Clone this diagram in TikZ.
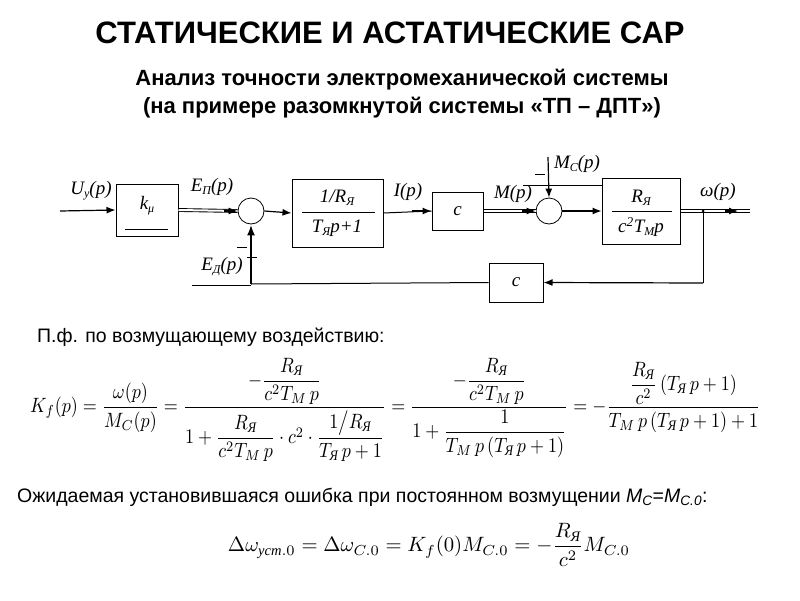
\documentclass[tikz,border=0pt]{standalone}
\usepackage{fontspec}
\usepackage{amsmath}
\setmainfont{Liberation Serif}
\newfontfamily\arial{Liberation Sans}
\usetikzlibrary{arrows.meta}
\newcommand\Ya{\text{\itshape Я}}
\newcommand\lo[1]{\raisebox{-0.35ex}{\fontsize{12}{13}\selectfont #1}}
\begin{document}
\begin{tikzpicture}[x=1pt,y=-1pt,
  ln/.style={line width=1pt},
  blk/.style={draw, line width=1pt, inner sep=0},
  sumc/.style={circle, draw, line width=0.8pt, minimum size=26pt, inner sep=0},
  lbl/.style={font=\fontsize{19}{22}\selectfont\itshape, inner sep=0},
  arr/.style={-{Latex[length=9pt,width=7pt]}, line width=1.2pt},
  tarr/.style={-{Latex[length=11pt,width=8pt]}, line width=2.4pt},
  dbl/.style={double, double distance=2pt, line width=0.9pt},
  title/.style={font=\arial\bfseries\fontsize{31}{36}\selectfont, inner sep=0},
  sub/.style={font=\arial\bfseries\fontsize{22}{26}\selectfont, inner sep=0},
  txt/.style={font=\arial\fontsize{19.5}{23}\selectfont, inner sep=0}]
\useasboundingbox (0,0) rectangle (800,600);
\fill[white] (0,0) rectangle (800,600);
% titles
\node[title] (t1) at (390,33) {СТАТИЧЕСКИЕ И АСТАТИЧЕСКИЕ САР};
\node[sub] (t2) at (402,80) {Анализ точности электромеханической системы};
\node[sub] (t3) at (402,108) {(на примере разомкнутой системы «ТП – ДПТ»)};
% blocks
\node[blk, minimum width=62pt, minimum height=52pt] (km) at (147,210) {};
\node[lbl] (kml) at (147,206) {k\lo{μ}};
\draw[ln] (125,229) -- (168,229);
\node[sumc] (s1) at (251,211) {};
\node[blk, minimum width=91pt, minimum height=68pt] (b2) at (337.5,213) {};
\node[lbl] (b2n) at (337,198) {1/R\lo{Я}};
\draw[ln] (302,212) -- (375,212);
\node[lbl] (b2d) at (337,228) {T\lo{Я}p+1};
\node[blk, minimum width=51pt, minimum height=38pt, lbl] (cA) at (457.5,211) {c};
\node[sumc] (s2) at (549,211) {};
\node[blk, minimum width=78pt, minimum height=66pt] (b3) at (641,211) {};
\node[lbl] (b3n) at (641,198) {R\lo{Я}};
\draw[ln] (612,211) -- (672,211);
\node[lbl] (b3d) at (641,227) {c\textsuperscript{2}T\lo{M}p};
\node[blk, minimum width=54pt, minimum height=39pt, lbl] (cB) at (516,282.5) {c};
% coordinates
\coordinate (in) at (60,211);
\coordinate (br) at (703,211);
\coordinate (out) at (750,211);
\coordinate (fb) at (703,283);
\coordinate (fl) at (251,284);
\coordinate (mc) at (548,157);
% connectors
\draw[arr] (in) -- (km.west);
\draw[dbl] (km.east) -- (s1.west);
\draw[arr] ([xshift=-14pt]s1.west) -- (s1.west);
\draw[arr] (s1.east) -- (b2.west);
\draw[ln] (b2.east) -- (cA.west);
\draw[arr] ([xshift=-20pt]cA.west) -- (cA.west);
\draw[dbl] (cA.east) -- (s2.west);
\draw[arr] ([xshift=-14pt]s2.west) -- (s2.west);
\draw[arr] (mc) -- (s2.north);
\draw[arr] (s2.east) -- (b3.west);
\draw[dbl] (b3.east) -- (out);
\draw[arr] ([xshift=-25pt]out) -- ([xshift=-12pt]out);
\fill (br) circle (1.5pt);
\draw[ln] (br) -- (fb);
\draw[arr] (fb) -- (cB.east);
\draw[ln] (cB.west) -- (fl);
\draw[tarr] (fl) -- (s1.south);
% labels
\node[lbl] (lu) at (91,191) {U\lo{y}(p)};
\node[lbl] (le) at (212,187) {E\lo{П}(p)};
\node[lbl] (li) at (408,192) {I(p)};
\node[lbl] (lm) at (513,194) {M(p)};
\node[lbl] (lmc) at (577,164) {M\lo{C}(p)};
\node[lbl] (lw) at (718,192) {ω(p)};
\node[lbl] (ld) at (222,267) {E\lo{Д}(p)};
\draw[ln] (535,174) -- (545,174);
\draw[ln] (523,185) -- (602,185);
\draw[ln] (237,247) -- (247,247);
\draw[ln] (247,257) -- (257,257);
\draw[ln] (192,285) -- (251,285);
% formulas
\node[txt, anchor=west] (pf) at (37,337) {П.ф. по возмущающему воздействию:};
\node[inner sep=0, anchor=west] (f1) at (30,410) {\scalebox{1}[1.15]{\resizebox{730pt}{!}{$\displaystyle
K_f(p)=\frac{\omega(p)}{M_C(p)}=
\frac{-\dfrac{R_\Ya}{c^2T_M\,p}}{1+\dfrac{R_\Ya}{c^2T_M\,p}\cdot c^2\cdot\dfrac{1\big/R_\Ya}{T_\Ya\,p+1}}
=\frac{-\dfrac{R_\Ya}{c^2T_M\,p}}{1+\dfrac{1}{T_M\,p\left(T_\Ya\,p+1\right)}}
=-\frac{\dfrac{R_\Ya}{c^2}\left(T_\Ya\,p+1\right)}{T_M\,p\left(T_\Ya\,p+1\right)+1}$}}};
\node[txt, anchor=west] (oj) at (17,497) {Ожидаемая установившаяся ошибка при постоянном возмущении \textit{M\textsubscript{C}}=\textit{M\textsubscript{C.0}}:};
\node[inner sep=0] (f2) at (429,545) {\resizebox{402pt}{!}{$\displaystyle
\Delta\omega_{\text{\itshape уст}.0}=\Delta\omega_{C.0}=K_f(0)M_{C.0}=-\frac{R_\Ya}{c^2}M_{C.0}$}};
\end{tikzpicture}
\end{document}
